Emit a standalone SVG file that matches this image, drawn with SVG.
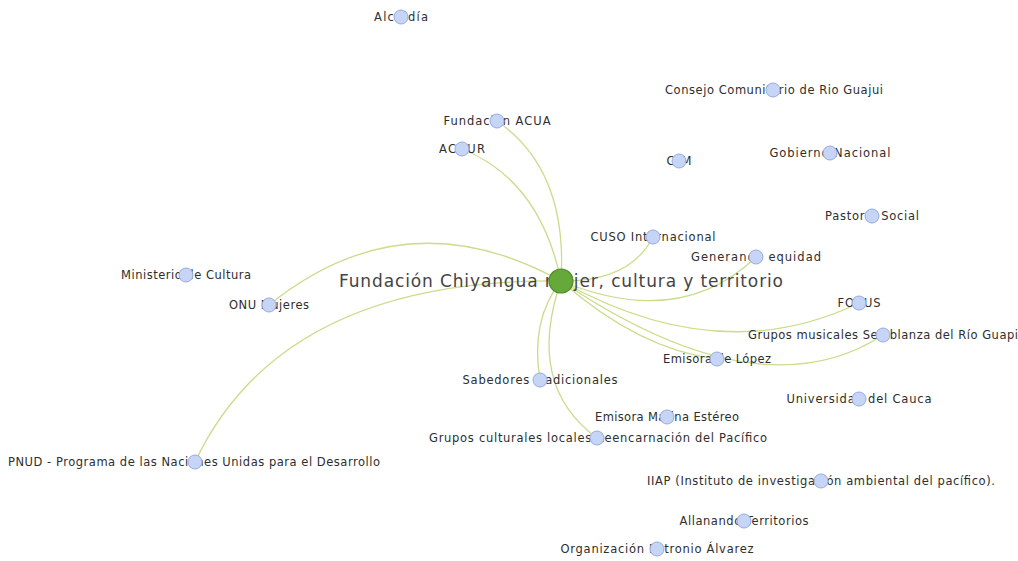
<svg xmlns="http://www.w3.org/2000/svg" width="1018" height="561" viewBox="0 0 1018 561">
<style>
.lbl{font-family:"DejaVu Sans","Liberation Sans",sans-serif;font-size:11.5px;fill:#2e2e2e;text-anchor:middle}
.big{font-family:"DejaVu Sans","Liberation Sans",sans-serif;font-size:17px;fill:#444;text-anchor:middle}
.n{fill:#c6d4f6;stroke:#97abe0;stroke-width:1}
.c{fill:#67a83a;stroke:#4d8c28;stroke-width:1.2}
.e{fill:none;stroke:#c9dd8a;stroke-width:1.3}
</style>
<rect width="1018" height="561" fill="#ffffff"/>
<g id="edges">
<path class="e" d="M561,281 Q568,170 497,121"/>
<path class="e" d="M561,281 Q540,180 462,149"/>
<path class="e" d="M561,281 Q405,195 269,305"/>
<path class="e" d="M561,281 Q282,278 195,462"/>
<path class="e" d="M561,281 Q630,282 653,237"/>
<path class="e" d="M561,281 Q680,330 756,257"/>
<path class="e" d="M561,281 Q720,370 859,303"/>
<path class="e" d="M561,281 Q760,415 883,335"/>
<path class="e" d="M561,281 Q640,350 717,359"/>
<path class="e" d="M561,281 Q530,320 540,380"/>
<path class="e" d="M561,281 Q525,385 597,438"/>
</g>
<g id="n_alcaldia"><text class="lbl" x="401" y="21" textLength="54">Alcaldía</text><circle class="n" cx="401" cy="17" r="7"/></g>
<g id="n_consejo"><text class="lbl" x="774" y="94" textLength="218">Consejo Comunitario de Rio Guajui</text><circle class="n" cx="773" cy="90" r="7"/></g>
<g id="n_acua"><text class="lbl" x="497" y="125" textLength="107">Fundación ACUA</text><circle class="n" cx="497" cy="121" r="7"/></g>
<g id="n_acnur"><text class="lbl" x="462" y="153" textLength="46">ACNUR</text><circle class="n" cx="462" cy="149" r="7"/></g>
<g id="n_ccm"><text class="lbl" x="679" y="165" textLength="25">CCM</text><circle class="n" cx="679" cy="161" r="7"/></g>
<g id="n_gobierno"><text class="lbl" x="830" y="157" textLength="121">Gobierno Nacional</text><circle class="n" cx="830" cy="153" r="7"/></g>
<g id="n_pastoral"><text class="lbl" x="872" y="220" textLength="94">Pastoral Social</text><circle class="n" cx="872" cy="216" r="7"/></g>
<g id="n_cuso"><text class="lbl" x="653" y="241" textLength="125">CUSO Internacional</text><circle class="n" cx="653" cy="237" r="7"/></g>
<g id="n_generando"><text class="lbl" x="756" y="261" textLength="130">Generando equidad</text><circle class="n" cx="756" cy="257" r="7"/></g>
<g id="n_ministerio"><text class="lbl" x="186" y="279" textLength="130">Ministerio de Cultura</text><circle class="n" cx="186" cy="275" r="7"/></g>
<g id="n_onu"><text class="lbl" x="269" y="309" textLength="80">ONU Mujeres</text><circle class="n" cx="269" cy="305" r="7"/></g>
<g id="n_focus"><text class="lbl" x="859" y="307" textLength="43">FOCUS</text><circle class="n" cx="859" cy="303" r="7"/></g>
<g id="n_semblanza"><text class="lbl" x="883" y="339" textLength="270">Grupos musicales Semblanza del Río Guapi</text><circle class="n" cx="883" cy="335" r="7"/></g>
<g id="n_lopez"><text class="lbl" x="717" y="363" textLength="108">Emisora de López</text><circle class="n" cx="717" cy="359" r="7"/></g>
<g id="n_sabedores"><text class="lbl" x="540" y="384" textLength="155">Sabedores tradicionales</text><circle class="n" cx="540" cy="380" r="7"/></g>
<g id="n_unicauca"><text class="lbl" x="859" y="403" textLength="145">Universidad del Cauca</text><circle class="n" cx="859" cy="399" r="7"/></g>
<g id="n_marina"><text class="lbl" x="667" y="421" textLength="144">Emisora Marina Estéreo</text><circle class="n" cx="667" cy="417" r="7"/></g>
<g id="n_grupos_culturales"><text class="lbl" x="598" y="442" textLength="338">Grupos culturales locales Reencarnación del Pacífico</text><circle class="n" cx="597" cy="438" r="7"/></g>
<g id="n_pnud"><text class="lbl" x="194" y="466" textLength="372">PNUD - Programa de las Naciones Unidas para el Desarrollo</text><circle class="n" cx="195" cy="462" r="7"/></g>
<g id="n_iiap"><text class="lbl" x="821" y="485" textLength="348">IIAP (Instituto de investigación ambiental del pacífico).</text><circle class="n" cx="821" cy="481" r="7"/></g>
<g id="n_allanando"><text class="lbl" x="744" y="525" textLength="129">Allanando Territorios</text><circle class="n" cx="744" cy="521" r="7"/></g>
<g id="n_petronio"><text class="lbl" x="657" y="553" textLength="193">Organización Petronio Álvarez</text><circle class="n" cx="657" cy="549" r="7"/></g>
<g id="n_chiyangua"><text class="big" x="561" y="287" textLength="444">Fundación Chiyangua mujer, cultura y territorio</text><circle class="c" cx="561" cy="281" r="12"/></g>
</svg>
